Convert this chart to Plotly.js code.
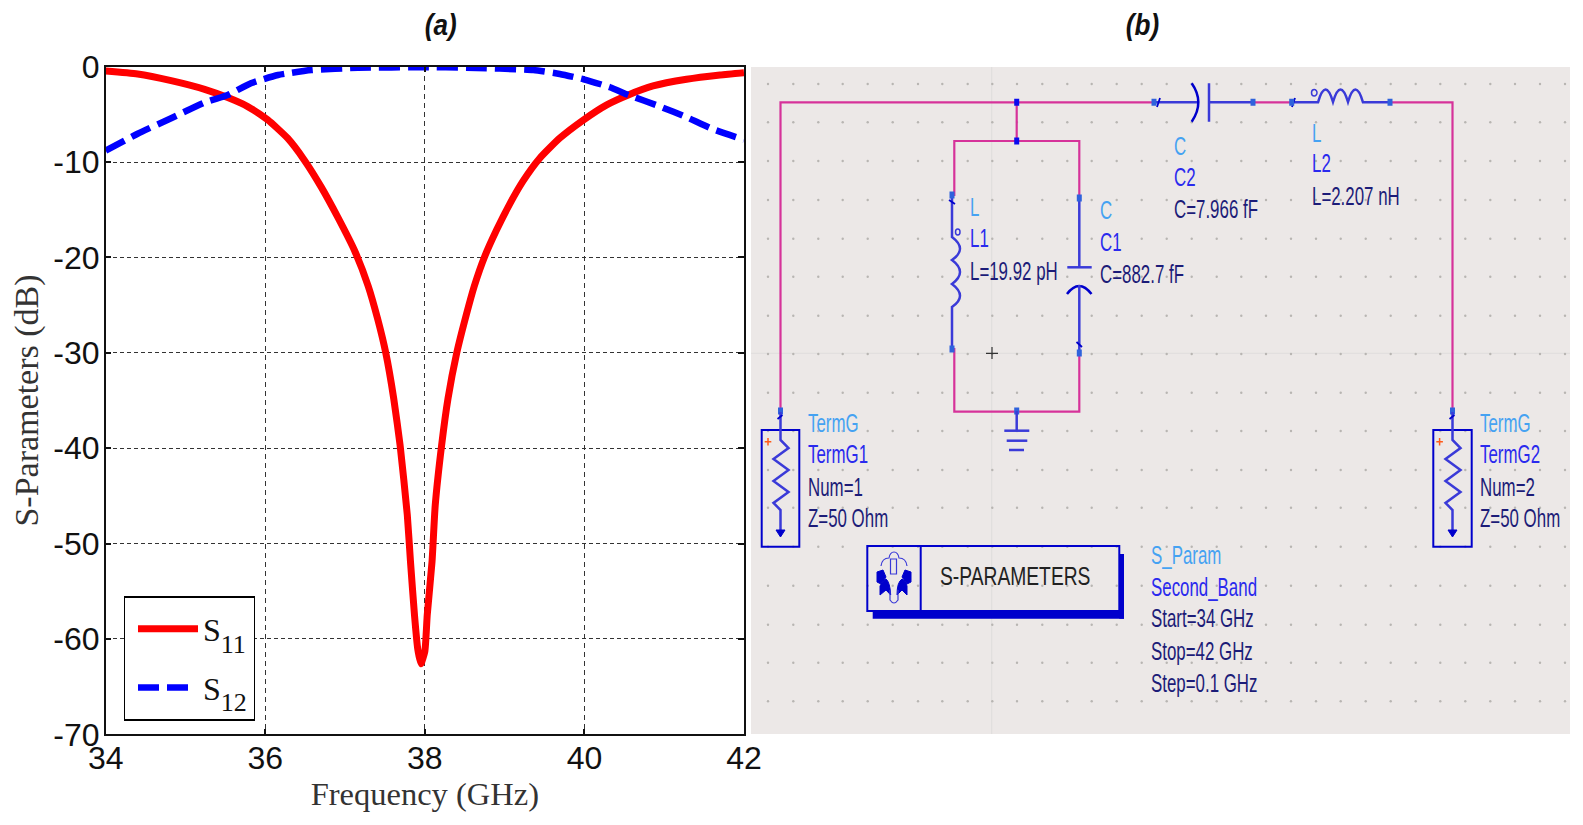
<!DOCTYPE html>
<html>
<head>
<meta charset="utf-8">
<script src="https://cdn.plot.ly/plotly-3.0.1.min.js"></script>
<style>html,body{margin:0;padding:0;background:#fff;overflow:hidden}#chart{width:1583px;height:825px}</style>
</head>
<body>
<div id="chart"></div>
<script>
// ---- chart data ----
const s11Freq = [34,34.4,34.82,35.24,35.53,35.78,36.03,36.28,36.49,36.7,36.91,37.12,37.29,37.41,37.51,37.61,37.69,37.78,37.82,37.87,37.91,37.95,38,38.03,38.09,38.13,38.21,38.29,38.4,38.52,38.62,38.75,38.9,39.07,39.23,39.44,39.69,39.99,40.28,40.55,40.86,41.28,41.7,42];
const s11Db   = [-0.45,-0.76,-1.46,-2.37,-3.24,-4.18,-5.57,-7.5,-9.8,-12.6,-15.8,-19.3,-23,-26.5,-30,-34.8,-39.7,-47,-51.9,-57.5,-61,-62.6,-61.3,-57.5,-51.9,-46,-39.7,-34.8,-30,-26,-23,-19.9,-17.1,-14.3,-12,-9.6,-7.5,-5.57,-4,-2.96,-2.02,-1.32,-0.87,-0.63];
const s12Freq = [34,34.4,34.82,35.24,35.53,35.82,36.16,36.58,37.16,38,38.52,39.36,39.69,39.99,40.32,40.55,40.95,41.28,41.61,42];
const s12Db   = [-8.8,-7.03,-5.4,-3.76,-2.96,-1.74,-0.87,-0.35,-0.12,-0.05,-0.1,-0.35,-0.76,-1.32,-2.15,-2.96,-4.18,-5.3,-6.54,-7.66];
const xTicks = [34,36,38,40,42];
const yTicks = [0,-10,-20,-30,-40,-50,-60,-70];
const seriesNames = ['S<sub><span style="font-size:26px">11</span></sub>','S<sub><span style="font-size:26px">12</span></sub>'];

// ---- schematic canvas dot pitch ----
const dotColumns = [768,793.3,818.3,842.7,867.7,892.7,918,942.3,967.7,992.3,1017,1042.3,1067.3,1091.7,1116.7,1141.7,1166.7,1191.7,1216.7,1241.3,1266,1291,1316,1340.7,1365.7,1390.7,1415.7,1440.3,1465.3,1490.3,1515,1540,1565];
const dotRows = [84,122.3,161,200,238.7,276.7,315.7,354,392.7,431,470,507.7,546.7,585.7,624.7,662.7,701.3];

const W=1583,H=825;
const PINK='#d6329a',BLUE='#3a3ad8',PORT='#2f62dc',NODE='#0a0aee',DEEP='#0000cc';
const LIGHT='#45a2f2',MID='#2a2aee',DARK='#1c1c78';

const dotX=[],dotY=[];
dotRows.forEach(r=>dotColumns.forEach(c=>{dotX.push(c);dotY.push(r);}));

const traces=[
 {x:s11Freq,y:s11Db,name:seriesNames[0],mode:'lines',line:{color:'#ff0000',width:7,shape:'spline',smoothing:0.5},legendgroup:'a'},
 {x:s12Freq,y:s12Db,name:seriesNames[1],mode:'lines',line:{color:'#0000ff',width:6.5,dash:'21px,8px',shape:'spline',smoothing:0.5},legendgroup:'b'},
 {x:dotX,y:dotY,xaxis:'x2',yaxis:'y2',mode:'markers',marker:{size:2.4,color:'#b8b5b2'},showlegend:false,hoverinfo:'skip'}
];

const shapes=[];
function S(o){shapes.push(Object.assign({xref:'x2',yref:'y2'},o));}
function path(d,color,w,fill){S({type:'path',path:d,line:{color:color,width:w},fillcolor:fill||'rgba(0,0,0,0)',layer:'above'});}
function box(x0,y0,x1,y1,fill,layer){S({type:'rect',x0,y0,x1,y1,fillcolor:fill,line:{width:0},layer:layer||'above'});}
function port(x,y,c){box(x-2.5,y-3.5,x+2.5,y+3.5,c||PORT);}

// canvas
box(751,67,1570,734,'#ece8e7','below');
box(991.2,67,992.2,734,'#dfdddc','below');
box(751,352.8,1570,353.8,'#dfdddc','below');

// wires
path('M780.5 410 L780.5 102.3 L1153 102.3',PINK,2.2);
path('M1016.7 102.3 L1016.7 141',PINK,2.2);
path('M952 195 L954.3 195 L954.3 141 L1079.3 141 L1079.3 198',PINK,2.2);
path('M952 349 L954.3 349 L954.3 411.7 L1079.3 411.7 L1079.3 353',PINK,2.2);
path('M1253 102.3 L1291.7 102.3',PINK,2.2);
path('M1390 102.3 L1452.5 102.3 L1452.5 410',PINK,2.2);

// L1
path('M952 195 L952 237 Q968 249 952 260 Q968 272 952 284 Q968 296 952 307 L952 349',BLUE,2.5);
path('M949 200 L955 204',DEEP,1.8);
S({type:'circle',x0:955.5,x1:960,y0:229,y1:235,line:{color:BLUE,width:1.5},layer:'above'});
// C1
path('M1079.3 198 L1079.3 267.3',BLUE,2.5);
path('M1067.3 267.3 L1091.7 267.3',BLUE,2.5);
path('M1067 294 Q1079 278 1091.5 294',DEEP,2.5);
path('M1079.3 285 L1079.3 353',BLUE,2.5);
path('M1076.5 342 L1082 347',DEEP,1.8);
// C2
path('M1154 102.3 L1197 102.3',BLUE,2.5);
path('M1191.7 83.3 Q1205 102.3 1191.7 121.7',DEEP,2.5);
path('M1209 83.3 L1209 121.7',BLUE,2.5);
path('M1209 102.3 L1253 102.3',BLUE,2.5);
path('M1157 107 L1160 98',DEEP,1.8);
// L2
path('M1291.7 102.3 L1318 102.3 Q1325.5 77 1333 102 Q1340.5 77 1348 102 Q1355.5 77 1363 102.3 L1390 102.3',BLUE,2.5);
path('M1292 107 L1295 98',DEEP,1.8);
S({type:'circle',x0:1311.5,x1:1317,y0:89.5,y1:96,line:{color:BLUE,width:1.5},layer:'above'});
// ports and nodes
[[1154,102.3],[1253,102.3],[1291.7,102.3],[1390,102.3],[952,195],[952,349],[1079.3,198],[1079.3,353],[780.5,411],[1452.5,411]].forEach(p=>port(p[0],p[1]));
[[1016.7,102.3],[1016.7,141]].forEach(p=>port(p[0],p[1],NODE));
port(1016.7,411);

// crosshair
path('M992 347 L992 359 M986 353.3 L998 353.3','#333333',1.2);

// ground
path('M1016.7 411 L1016.7 430.7',BLUE,2.5);
path('M1004.3 430.7 L1029.3 430.7',BLUE,2.5);
path('M1006.7 440.7 L1027.3 440.7',BLUE,2.5);
path('M1009 450 L1024 450',BLUE,2.5);

// terminals
function term(cx,l,r){
  S({type:'rect',x0:l,x1:r,y0:430,y1:546.7,line:{color:DEEP,width:2},layer:'above'});
  path(`M${cx} 412 L${cx} 440 L${cx+8} 448 L${cx-7} 459 L${cx+8} 470 L${cx-7} 481 L${cx+8} 492 L${cx-7} 503 L${cx} 510 L${cx} 530`,BLUE,2.5);
  path(`M${cx-4.5} 530 L${cx+4.5} 530 L${cx} 537 Z`,DEEP,1,DEEP);
  path(`M${cx-3} 419 L${cx+2} 415`,DEEP,1.8);
  path(`M${l+3} 441.7 L${l+9.6} 441.7 M${l+6.3} 438 L${l+6.3} 445.5`,'#ff5a1a',1.5);
}
term(780.5,761.7,799.3);
term(1452.5,1433.3,1471.7);

// S-parameters box
box(872.7,611,1124,618.7,DEEP);
box(1119.3,554,1124,618.7,DEEP);
S({type:'rect',x0:867.3,x1:1119.3,y0:546,y1:611,line:{color:DEEP,width:2},layer:'above'});
path('M920.7 546 L920.7 611',DEEP,2);
// simulation icon
path('M881 566 Q882 558 889 558 Q890 552 894 552 Q898 552 899 558 Q906 558 907 566',BLUE,1.2);
path('M890.5 559 L896.5 559 L896.5 574 L890.5 574 Z',BLUE,1.2);
path('M880 595 L880 586 Q884 579 886 579 Q890 582 890.7 595 L886 590 Z',DEEP,1,DEEP);
path('M897 595 Q897 582 902 579 Q906 581 907 586 L907 595 L902 590 Z',DEEP,1,DEEP);
path('M877 572 L883 570 L886 577 L881 584 L877 582 Z',DEEP,1,DEEP);
path('M911 572 L905 570 L902 577 L907 584 L911 582 Z',DEEP,1,DEEP);
path('M890 590 L890 600 Q894 606 898 600 L898 590',BLUE,1.2);

const SANS='"Liberation Sans",Arial,sans-serif';
function T(text,x,y,color){
  return {text,x,y,xref:'x2',yref:'y2',xanchor:'left',yanchor:'middle',showarrow:false,borderpad:0,
    font:{family:SANS,size:25,color}};
}
const ann=[
 T('L',970,206.7,LIGHT),T('L1',970,238,MID),T('L=19.92 pH',970,270.7,DARK),
 T('C',1100,210,LIGHT),T('C1',1100,242,MID),T('C=882.7 fF',1100,274,DARK),
 T('C',1174.3,146,LIGHT),T('C2',1174.3,177.3,MID),T('C=7.966 fF',1174.3,209,DARK),
 T('L',1311.7,132.7,LIGHT),T('L2',1311.7,163.3,MID),T('L=2.207 nH',1311.7,196,DARK),
 T('TermG',807.7,422.7,LIGHT),T('TermG1',807.7,454.3,MID),T('Num=1',807.7,486.7,DARK),T('Z=50 Ohm',807.7,518.3,DARK),
 T('TermG',1480,422.7,LIGHT),T('TermG2',1480,454.3,MID),T('Num=2',1480,486.7,DARK),T('Z=50 Ohm',1480,518.3,DARK),
 T('S_Param',1151,555,LIGHT),T('Second_Band',1151,586.7,MID),T('Start=34 GHz',1151,618.3,DARK),T('Stop=42 GHz',1151,651,DARK),T('Step=0.1 GHz',1151,682.7,DARK),
 T('S-PARAMETERS',940,576,'#222222'),
 {text:'<b><i>(a)</i></b>',x:441/W,y:1-25/H,xref:'paper',yref:'paper',showarrow:false,xanchor:'center',yanchor:'middle',font:{family:SANS,size:29,color:'#111'}},
 {text:'<b><i>(b)</i></b>',x:1142/W,y:1-25/H,xref:'paper',yref:'paper',showarrow:false,xanchor:'center',yanchor:'middle',font:{family:SANS,size:29,color:'#111'}}
];

const tickFont={family:SANS,size:32,color:'#111'};
const layout={
 width:W,height:H,margin:{l:0,r:0,t:0,b:0,pad:0},paper_bgcolor:'#fff',plot_bgcolor:'rgba(0,0,0,0)',showlegend:true,
 xaxis:{domain:[105.7/W,744/W],range:[34,42],tickvals:xTicks,ticktext:xTicks.map(String),anchor:'y',mirror:'ticks',
   showline:true,linecolor:'#111',linewidth:1.5,ticks:'inside',ticklen:6,tickcolor:'#111',tickwidth:1.5,
   showgrid:true,gridcolor:'#333',gridwidth:1.2,griddash:'5px,4px',zeroline:false,tickfont:tickFont,ticklabelstandoff:-5,automargin:false,
   title:{text:'Frequency (GHz)',standoff:6,font:{family:'"Liberation Serif",serif',size:32.5,color:'#333'}}},
 yaxis:{domain:[1-734.3/H,1-66.7/H],range:[-70,0],tickvals:yTicks,ticktext:yTicks.map(String),anchor:'x',mirror:'ticks',
   showline:true,linecolor:'#111',linewidth:1.5,ticks:'inside',ticklen:6,tickcolor:'#111',tickwidth:1.5,
   showgrid:true,gridcolor:'#333',gridwidth:1.2,griddash:'4px,3px',zeroline:false,tickfont:tickFont,ticklabelstandoff:-2,automargin:false,
   title:{text:'S-Parameters (dB)',standoff:4,font:{family:'"Liberation Serif",serif',size:34,color:'#333'}}},
 xaxis2:{domain:[751/W,1570/W],range:[751,1570],visible:false,anchor:'y2',fixedrange:true},
 yaxis2:{domain:[1-734.3/H,1-66.7/H],range:[734.3,66.7],visible:false,anchor:'x2',fixedrange:true},
 legend:{x:123.5/W,y:1-596/H,xanchor:'left',yanchor:'top',bgcolor:'#fff',bordercolor:'#000',borderwidth:1.5,
   itemwidth:60,tracegroupgap:14,font:{family:'"Liberation Serif",serif',size:32,color:'#111'},itemclick:false,itemdoubleclick:false},
 shapes:shapes,annotations:ann
};
Plotly.newPlot('chart',traces,layout,{displayModeBar:false,responsive:false}).then(gd=>{
  // the reference's schematic lettering is condensed: narrow the glyphs of the real text
  gd.querySelectorAll('.annotation-text').forEach(el=>{
    const s=el.textContent;
    const isPanelTitle=s.charAt(0)==='(';
    const factor=isPanelTitle?0.9:(s==='S-PARAMETERS'?0.77:0.675);
    const len=el.getComputedTextLength();
    el.setAttribute('lengthAdjust','spacingAndGlyphs');
    el.setAttribute('textLength',len*factor);
    if(!isPanelTitle){el.setAttribute('text-anchor','start');el.setAttribute('x','0');}
  });
  // legend padding as in the reference
  const lg=gd.querySelector('.legend');
  const sb=lg.querySelector('.scrollbox');
  sb.removeAttribute('clip-path');
  sb.setAttribute('transform','translate(8,4)');
  const bg=lg.querySelector('rect.bg');
  bg.setAttribute('width',130);bg.setAttribute('height',123);
  lg.querySelectorAll('.legendtext tspan[dy]').forEach(t=>{
    const d=parseFloat(t.getAttribute('dy'));
    if(!isNaN(d)) t.setAttribute('dy',(d*1.7)+'em');
  });
  // the dashed key shows two whole dashes
  const keys=lg.querySelectorAll('.legendlines path');
  if(keys.length>1){
    const blueKey=[...keys].filter(p=>/dasharray/.test(p.getAttribute('style')||'')).pop();
    if(blueKey) blueKey.setAttribute('d','M5,0h50');
  }
});
</script>
</body>
</html>
